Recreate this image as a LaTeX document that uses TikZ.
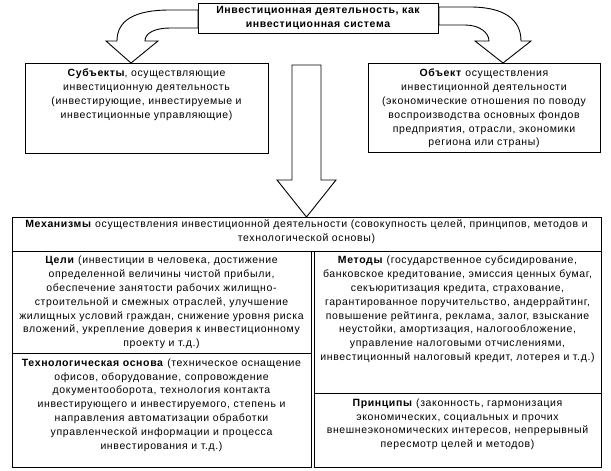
\documentclass[tikz,border=0pt]{standalone}
\usepackage{fontspec}
\setmainfont{Liberation Sans}[LetterSpace=6]
\begin{document}
\begin{tikzpicture}[x=1pt,y=-1pt,
  box/.style={draw=black, line width=0.9pt, fill=white, inner sep=0pt, anchor=north west},
  txt/.style={align=center, inner sep=0pt, anchor=north, font=\fontsize{10.5}{13.8}\selectfont},
  blockarrow/.style={draw=black, line width=0.9pt, fill=white, line join=miter}]
\useasboundingbox (0,0) rectangle (611,471);
% top box
\node[box, minimum width=240, minimum height=30] (top) at (198,3) {};
\node[txt, font=\fontsize{10.5}{13.3}\selectfont\bfseries] (topt) at (318,6.5) {Инвестиционная деятельность, как\\инвестиционная система};
% boxes
\node[box, minimum width=243, minimum height=90] (subj) at (25,63) {};
\node[txt] (subjt) at (146.5,69) {\textbf{Субъекты}, осуществляющие\\инвестиционную деятельность\\(инвестирующие, инвестируемые и\\инвестиционные управляющие)};
\node[box, minimum width=232, minimum height=89] (obj) at (368,63) {};
\node[txt] (objt) at (484,69) {\textbf{Объект} осуществления\\инвестиционной деятельности\\(экономические отношения по поводу\\воспроизводства основных фондов\\предприятия, отрасли, экономики\\региона или страны)};
% mechanisms
\node[box, minimum width=589, minimum height=34] (mech) at (12,217) {};
\node[txt, font=\fontsize{10.5}{14.5}\selectfont] (mecht) at (306.5,219.5) {\textbf{Механизмы} осуществления инвестиционной деятельности (совокупность целей, принципов, методов и\\технологической основы)};
\node[box, minimum width=299, minimum height=102] (goal) at (12,251) {};
\node[txt] (goalt) at (161.5,256) {\textbf{Цели} (инвестиции в человека, достижение\\определенной величины чистой прибыли,\\обеспечение занятости рабочих  жилищно-\\строительной и смежных отраслей, улучшение\\жилищных условий граждан, снижение уровня риска\\вложений, укрепление доверия к инвестиционному\\проекту и т.д.)};
\node[box, minimum width=299, minimum height=114] (tech) at (12,353) {};
\node[txt] (techt) at (161.5,358.5) {\textbf{Технологическая основа} (техническое оснащение\\офисов, оборудование, сопровождение\\документооборота, технология контакта\\инвестирующего и инвестируемого, степень и\\направления автоматизации обработки\\управленческой информации и процесса\\инвестирования и т.д.)};
\node[box, minimum width=287, minimum height=142] (meth) at (314,251) {};
\node[txt] (metht) at (457.5,256) {\textbf{Методы} (государственное субсидирование,\\банковское кредитование, эмиссия ценных бумаг,\\секъюритизация кредита, страхование,\\гарантированное поручительство, андеррайтинг,\\повышение рейтинга, реклама, залог, взыскание\\неустойки, амортизация, налогообложение,\\управление налоговыми отчислениями,\\инвестиционный налоговый кредит, лотерея и т.д.)};
\node[box, minimum width=287, minimum height=74] (princ) at (314,393) {};
\node[txt] (princt) at (457.5,398.5) {\textbf{Принципы} (законность, гармонизация\\экономических, социальных и прочих\\внешнеэкономических интересов, непрерывный\\пересмотр целей и методов)};
% middle block arrow
\draw[blockarrow] (292,65) -- (321,65) -- (321,180) -- (336,180) -- (mech.north -| 306.5,0) -- (277,180) -- (292,180) -- cycle;
% left curved arrow
\draw[blockarrow] (top.west |- 0,10) -- (170,10) .. controls (135,10) and (117,20) .. (117,41)
  -- (106,41) -- (subj.north -| 131,0) -- (158,41) -- (145,41)
  .. controls (145,33) and (155,28) .. (170,28) -- (top.west |- 0,28) -- cycle;
% right curved arrow
\draw[blockarrow] (top.east |- 0,7) -- (470,7) .. controls (505,7) and (521,20) .. (521,41)
  -- (531,41) -- (obj.north -| 503,0) -- (475,41) -- (489,41)
  .. controls (489,33) and (480,25) .. (465,25) -- (top.east |- 0,25) -- cycle;
\end{tikzpicture}
\end{document}
